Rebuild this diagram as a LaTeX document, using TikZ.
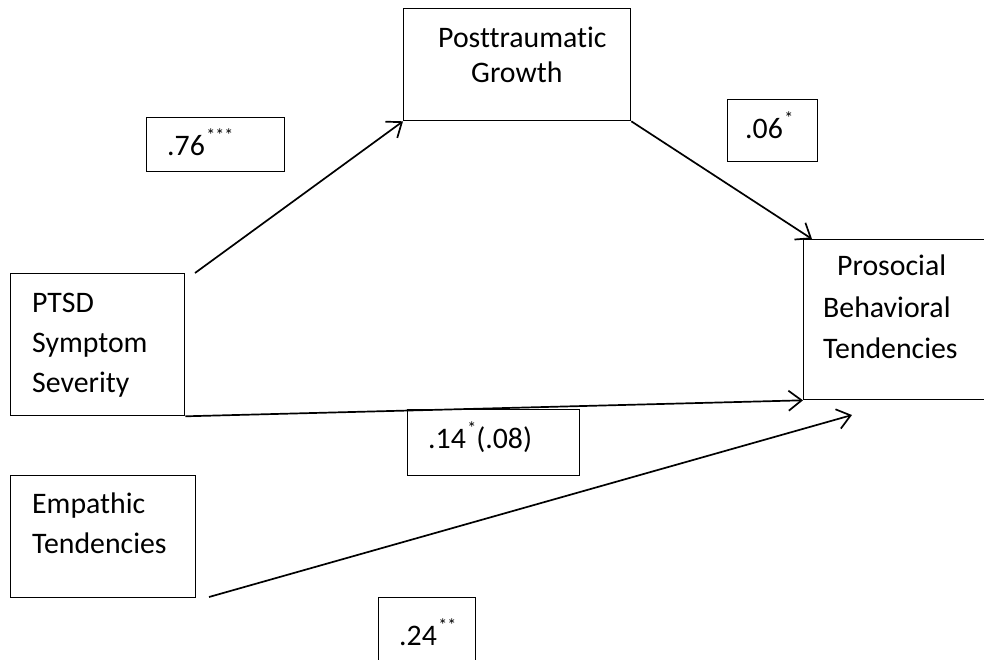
\documentclass[tikz,border=0pt]{standalone}
\usepackage{fontspec}
\setmainfont{Carlito}[Ligatures=NoCommon]
\usetikzlibrary{arrows.meta,calc}
\begin{document}
\begin{tikzpicture}[x=1pt,y=-1pt,
  box/.style={draw, line width=1.3pt, inner sep=0pt, anchor=north west},
  txt/.style={font=\fontsize{29.8}{40}\selectfont, inner sep=0pt, anchor=base west},
  sup/.style={font=\fontsize{18}{20}\selectfont, inner sep=0pt, anchor=base west},
  conn/.style={line width=1.7pt, -{Straight Barb[length=13pt,width=20pt,line width=1.7pt]}}]
\useasboundingbox (0,0) rectangle (984,659);
\clip (0,0) rectangle (984,659);
% boxes
\node[box, minimum width=174pt, minimum height=142pt] (ptsd) at (10,273) {};
\node[box, minimum width=227pt, minimum height=112pt] (ptg) at (403,8) {};
\node[box, minimum width=200pt, minimum height=160pt] (pro) at (803,239) {};
\node[box, minimum width=185pt, minimum height=122pt] (emp) at (10,475) {};
\node[box, minimum width=138pt, minimum height=54pt] (b76) at (146,117) {};
\node[box, minimum width=90pt, minimum height=62pt] (b06) at (727,99) {};
\node[box, minimum width=172pt, minimum height=66pt] (b14) at (407,409) {};
\node[box, minimum width=97pt, minimum height=90pt] (b24) at (378,597) {};
% texts
\node[txt] (t1) at (32,312) {PTSD};
\node[txt] (t2) at (32,352) {Symptom};
\node[txt] (t3) at (32,392) {Severity};
\node[txt] (t4) at (438,47) {Posttraumatic};
\node[txt] (t5) at (471,82) {Growth};
\node[txt] (t6) at (837,275) {Prosocial};
\node[txt] (t7) at (823,317) {Behavioral};
\node[txt] (t8) at (823,358) {Tendencies};
\node[txt] (t9) at (32,513) {Empathic};
\node[txt] (t10) at (32,553) {Tendencies};
\node[txt] (l76) at (167,155) {.76};
\node[sup] (s76) at (l76.base east) [xshift=1pt, yshift=14pt] {***};
\node[txt] (l06) at (745,138) {.06};
\node[sup] (s06) at (l06.base east) [xshift=1pt, yshift=14pt] {*};
\node[txt] (l14) at (428,448) {.14};
\node[sup] (s14) at (l14.base east) [xshift=1pt, yshift=14pt] {*};
\node[txt] (l14b) at ($(l14.base east)+(10,0)$) {(.08)};
\node[txt] (l24) at (399,645) {.24};
\node[sup] (s24) at (l24.base east) [xshift=1pt, yshift=14pt] {**};
% connectors
\coordinate (a1) at (195,273);
\coordinate (a2) at (812,239);
\coordinate (a4s) at (209,597);
\coordinate (a4e) at (852,415);
\draw[conn] (a1) -- (ptg.south west);
\draw[conn] (ptg.south east) -- (a2);
\draw[conn] (ptsd.south east) -- (pro.south west);
\draw[conn] (a4s) -- (a4e);
\end{tikzpicture}
\end{document}
